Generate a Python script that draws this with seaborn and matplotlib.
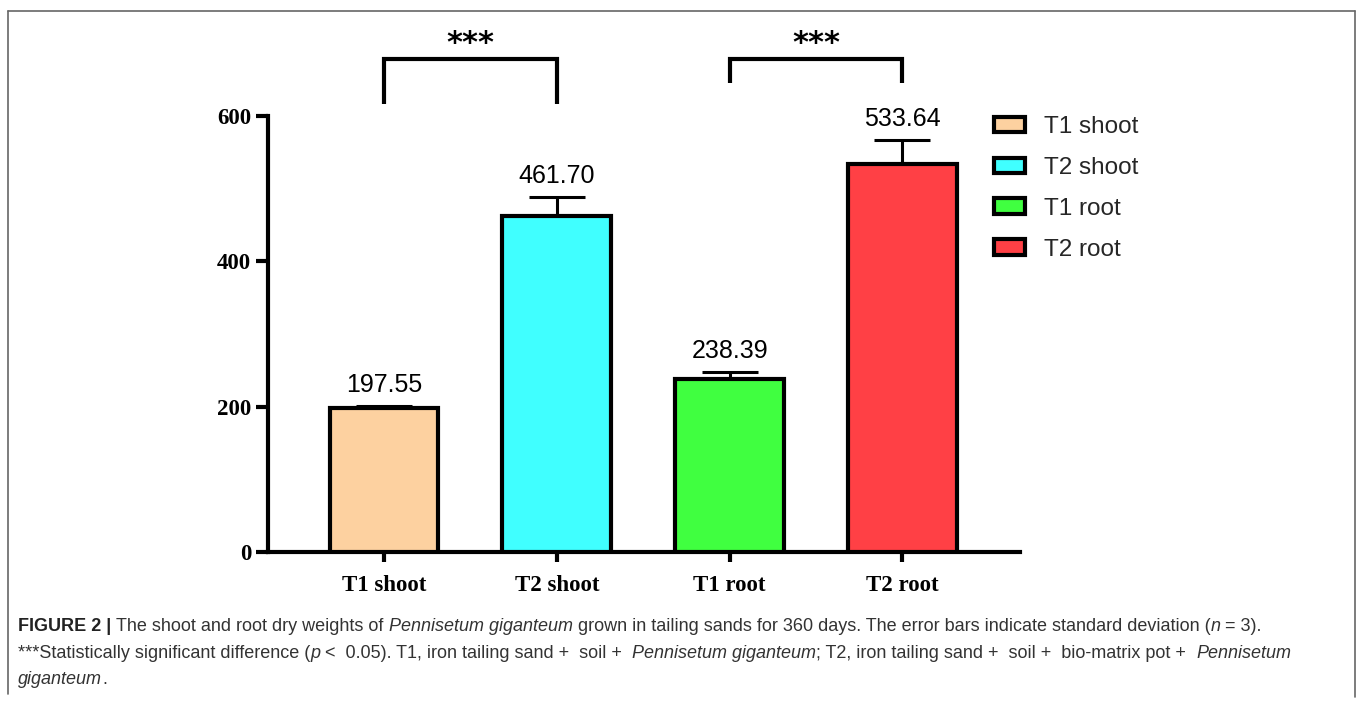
import matplotlib
matplotlib.use("Agg")
import matplotlib.pyplot as plt
from matplotlib.lines import Line2D
import seaborn as sns
import pandas as pd

# ---- data ----
categories = ["T1 shoot", "T2 shoot", "T1 root", "T2 root"]
means = [197.55, 461.70, 238.39, 533.64]
sds = [3.4, 27.0, 9.0, 33.0]
bar_colors = ["#FDD1A0", "#40FFFF", "#40FF40", "#FF4045"]
y_ticks = [0, 200, 400, 600]
# significance comparisons: (left index, right index, leg bottom value)
comparisons = [(0, 1, 616), (2, 3, 645)]
sig_label = "***"

W, H = 1357, 702
sns.set_theme(style="ticks")
plt.rcParams["font.family"] = ["Liberation Sans", "DejaVu Sans"]

fig = plt.figure(figsize=(W / 100, H / 100), dpi=100)
fig.patch.set_facecolor("white")

def px(x, y):
    return x / W, 1 - y / H

l, t = 268, 116
r, b = 1020, 552
ax = fig.add_axes([l / W, (H - b) / H, (r - l) / W, (b - t) / H])
ax.set_facecolor("white")

df = pd.DataFrame({"group": categories, "weight": means})
sns.barplot(data=df, x="group", y="weight", hue="group", palette=bar_colors,
            saturation=1, width=0.63, edgecolor="black", linewidth=3,
            errorbar=None, legend=True, ax=ax, zorder=3)

# one-sided (upper) error bars
ax.errorbar(range(len(categories)), means, yerr=[[0] * len(sds), sds],
            fmt="none", ecolor="black", elinewidth=2.2, capsize=20.5,
            capthick=2.2, zorder=2)

for i, (m, s) in enumerate(zip(means, sds)):
    ax.annotate(f"{m:.2f}", xy=(i, m + s), xytext=(0, 10),
                textcoords="offset points", ha="center", va="baseline",
                fontsize=18, color="black")

ax.set_ylim(0, 600)
ax.set_xlim(-0.671, 3.68)
ax.set_yticks(y_ticks)
ax.set_xlabel("")
ax.set_ylabel("")
for side in ["top", "right"]:
    ax.spines[side].set_visible(False)
for side in ["left", "bottom"]:
    ax.spines[side].set_linewidth(3)
    ax.spines[side].set_color("black")
ax.tick_params(axis="y", length=9, width=3, color="black", pad=3)
ax.tick_params(axis="x", length=7.5, width=3, color="black", pad=9)
for lab in ax.get_xticklabels() + ax.get_yticklabels():
    lab.set_fontfamily("Liberation Serif")
    lab.set_fontweight("bold")
    lab.set_fontsize(16.5)
    lab.set_color("black")

# significance brackets
for i0, i1, leg in comparisons:
    top = 679
    ax.plot([i0, i0, i1, i1], [leg, top, top, leg], color="black", lw=3,
            clip_on=False, solid_joinstyle="miter", solid_capstyle="butt")
    ax.text((i0 + i1) / 2, 700, sig_label, ha="center", va="center",
            fontsize=22, fontweight="bold", color="black", clip_on=False,
            fontfamily="DejaVu Sans")

# legend
handles, labels = ax.get_legend_handles_labels()
leg = ax.legend(handles, labels, loc="upper left", frameon=False,
                bbox_to_anchor=px(994, 116), bbox_transform=fig.transFigure,
                borderpad=0, borderaxespad=0, fontsize=17.5,
                handlelength=1.28, handleheight=0.62, handletextpad=0.78,
                labelspacing=0.78)
for h in leg.legend_handles:
    h.set_linewidth(3)
    h.set_edgecolor("black")

# frame around the figure panel
frame_col = "#666666"
for xs, ys in [([8, 8], [11, 694]), ([8, 1355], [11, 11]), ([1355, 1355], [11, 697])]:
    fig.add_artist(Line2D([x / W for x in xs], [1 - y / H for y in ys],
                          color=frame_col, lw=1.2))

# caption with mixed styles
cap_color = "#333333"
cap_size = 13.0
caption_lines = [
    [("FIGURE 2 |", "bold"), (" The shoot and root dry weights of ", "normal"),
     ("Pennisetum giganteum", "italic"),
     (" grown in tailing sands for 360 days. The error bars indicate standard deviation (", "normal"),
     ("n", "italic"), (" = 3).", "normal")],
    [("***Statistically significant difference (", "normal"), ("p", "italic"),
     (" <  0.05). T1, iron tailing sand +  soil +  ", "normal"),
     ("Pennisetum giganteum", "italic"),
     ("; T2, iron tailing sand +  soil +  bio-matrix pot +  ", "normal"),
     ("Pennisetum", "italic")],
    [("giganteum", "italic"), (".", "normal")],
]
line_y = [631, 658, 684]

fig.canvas.draw()
renderer = fig.canvas.get_renderer()

def text_width(s, style):
    weight = "bold" if style == "bold" else "normal"
    fstyle = "italic" if style == "italic" else "normal"
    t = fig.text(0, 0, s, fontsize=cap_size, fontweight=weight, fontstyle=fstyle)
    w = t.get_window_extent(renderer).width
    t.remove()
    return w

space_w = text_width("a a", "normal") - text_width("aa", "normal")

for runs, y in zip(caption_lines, line_y):
    x = 18.0
    for s, style in runs:
        lead = len(s) - len(s.lstrip(" "))
        trail = len(s) - len(s.rstrip(" "))
        core = s.strip(" ")
        x += lead * space_w
        weight = "bold" if style == "bold" else "normal"
        fstyle = "italic" if style == "italic" else "normal"
        col = "#222222" if style == "bold" else cap_color
        fig.text(x / W, 1 - y / H, core, fontsize=cap_size, fontweight=weight,
                 fontstyle=fstyle, color=col, ha="left", va="baseline")
        x += text_width(core, style) + trail * space_w

fig.savefig("out.png", dpi=100, facecolor="white")
